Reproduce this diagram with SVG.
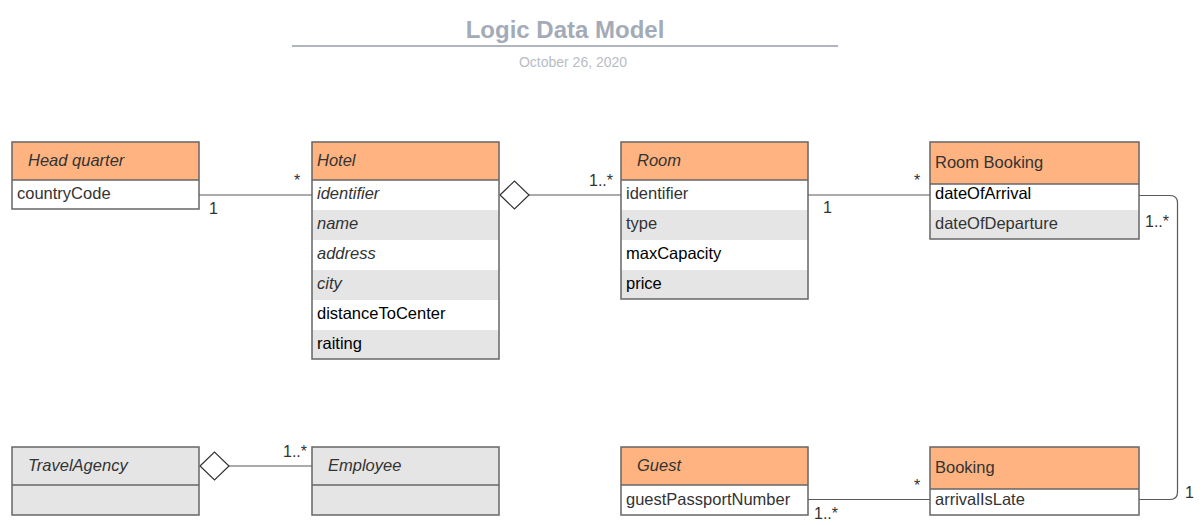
<svg xmlns="http://www.w3.org/2000/svg" width="1202" height="525" viewBox="0 0 1202 525">
<style>
text{font-family:"Liberation Sans",Arial,sans-serif;}
.hdr{fill:#ffb380;}
.w{fill:#ffffff;}
.g{fill:#e5e5e5;}
.box{fill:none;stroke:#666666;stroke-width:1.5;}
.sep{stroke:#666666;stroke-width:1.5;}
.t{font-size:16.5px;fill:#333333;}
.tb{font-size:16.5px;fill:#000000;}
.i{font-style:italic;}
.lbl{font-size:16px;fill:#333333;}
.conn{fill:none;stroke:#595959;stroke-width:1.2;}
.dia{fill:#ffffff;stroke:#333333;stroke-width:1.2;}
</style>
<rect width="1202" height="525" fill="#ffffff"/>
<g id="title">
<text x="565" y="38" text-anchor="middle" style="font-size:24px;font-weight:bold;fill:#a3abb8">Logic Data Model</text>
<line x1="292" y1="46" x2="838" y2="46" stroke="#b0b5bf" stroke-width="2"/>
<text x="573" y="67" text-anchor="middle" style="font-size:14px;fill:#b8bcc5">October 26, 2020</text>
</g>
<g id="connectors">
<line class="conn" x1="199" y1="195" x2="312" y2="195"/>
<line class="conn" x1="529" y1="195" x2="621" y2="195"/>
<polygon class="dia" points="500,195 514.5,181 529,195 514.5,209"/>
<line class="conn" x1="808" y1="195" x2="930" y2="195"/>
<path class="conn" d="M1139,195.5 H1170 Q1177.5,195.5 1177.5,203 V492 Q1177.5,499.5 1170,499.5 H1139"/>
<line class="conn" x1="808" y1="499.5" x2="930" y2="499.5"/>
<line class="conn" x1="229" y1="466" x2="312" y2="466"/>
<polygon class="dia" points="200,466 214.5,452 229,466 214.5,480"/>
<text class="lbl" x="209" y="214">1</text>
<text class="lbl" x="294" y="186">*</text>
<text class="lbl" x="589" y="186">1..*</text>
<text class="lbl" x="823" y="213">1</text>
<text class="lbl" x="914" y="186">*</text>
<text class="lbl" x="1145" y="227">1..*</text>
<text class="lbl" x="1185" y="498">1</text>
<text class="lbl" x="914" y="491">*</text>
<text class="lbl" x="814" y="519">1..*</text>
<text class="lbl" x="283" y="457">1..*</text>
</g>
<g id="headquarter">
<rect class="hdr" x="12" y="142" width="187" height="38"/>
<rect class="w" x="12" y="180" width="187" height="29"/>
<rect class="box" x="12" y="142" width="187" height="67"/>
<line class="sep" x1="12" y1="180" x2="199" y2="180"/>
<text class="t i" x="28" y="166">Head quarter</text>
<text class="t" x="17" y="199">countryCode</text>
</g>
<g id="hotel">
<rect class="hdr" x="312" y="142" width="187" height="38"/>
<rect class="w" x="312" y="180" width="187" height="30"/>
<rect class="g" x="312" y="210" width="187" height="30"/>
<rect class="w" x="312" y="240" width="187" height="30"/>
<rect class="g" x="312" y="270" width="187" height="30"/>
<rect class="w" x="312" y="300" width="187" height="30"/>
<rect class="g" x="312" y="330" width="187" height="29"/>
<rect class="box" x="312" y="142" width="187" height="217"/>
<line class="sep" x1="312" y1="180" x2="499" y2="180"/>
<text class="t i" x="317" y="166">Hotel</text>
<text class="t i" x="317" y="199">identifier</text>
<text class="t i" x="317" y="229">name</text>
<text class="t i" x="317" y="259">address</text>
<text class="t i" x="317" y="289">city</text>
<text class="tb" x="317" y="319">distanceToCenter</text>
<text class="tb" x="317" y="349">raiting</text>
</g>
<g id="room">
<rect class="hdr" x="621" y="142" width="187" height="38"/>
<rect class="w" x="621" y="180" width="187" height="30"/>
<rect class="g" x="621" y="210" width="187" height="30"/>
<rect class="w" x="621" y="240" width="187" height="30"/>
<rect class="g" x="621" y="270" width="187" height="29"/>
<rect class="box" x="621" y="142" width="187" height="157"/>
<line class="sep" x1="621" y1="180" x2="808" y2="180"/>
<text class="t i" x="637" y="166">Room</text>
<text class="t" x="626" y="199">identifier</text>
<text class="t" x="626" y="229">type</text>
<text class="tb" x="626" y="259">maxCapacity</text>
<text class="tb" x="626" y="289">price</text>
</g>
<g id="roombooking">
<rect class="hdr" x="930" y="142" width="209" height="42"/>
<rect class="w" x="930" y="184" width="209" height="26"/>
<rect class="g" x="930" y="210" width="209" height="29"/>
<rect class="box" x="930" y="142" width="209" height="97"/>
<line class="sep" x1="930" y1="184" x2="1139" y2="184"/>
<text class="t" x="935" y="168">Room Booking</text>
<text class="tb" x="935" y="199">dateOfArrival</text>
<text class="t" x="935" y="229">dateOfDeparture</text>
</g>
<g id="travelagency">
<rect class="g" x="12" y="447" width="187" height="68"/>
<rect class="box" x="12" y="447" width="187" height="68"/>
<line class="sep" x1="12" y1="485" x2="199" y2="485"/>
<text class="t i" x="28" y="471">TravelAgency</text>
</g>
<g id="employee">
<rect class="g" x="312" y="447" width="187" height="68"/>
<rect class="box" x="312" y="447" width="187" height="68"/>
<line class="sep" x1="312" y1="485" x2="499" y2="485"/>
<text class="t i" x="328" y="471">Employee</text>
</g>
<g id="guest">
<rect class="hdr" x="621" y="447" width="187" height="38"/>
<rect class="w" x="621" y="485" width="187" height="30"/>
<rect class="box" x="621" y="447" width="187" height="68"/>
<line class="sep" x1="621" y1="485" x2="808" y2="485"/>
<text class="t i" x="637" y="471">Guest</text>
<text class="t" x="626" y="505">guestPassportNumber</text>
</g>
<g id="booking">
<rect class="hdr" x="930" y="447" width="209" height="42"/>
<rect class="w" x="930" y="489" width="209" height="26"/>
<rect class="box" x="930" y="447" width="209" height="68"/>
<line class="sep" x1="930" y1="489" x2="1139" y2="489"/>
<text class="t" x="935" y="473">Booking</text>
<text class="t" x="935" y="505">arrivalIsLate</text>
</g>
</svg>
